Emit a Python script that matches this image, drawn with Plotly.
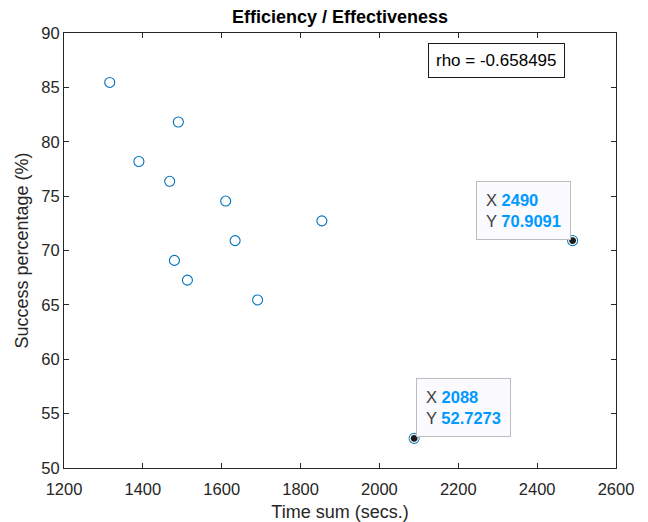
import plotly.graph_objects as go

time_sum = [1316, 1490, 1390, 1468, 1610, 1854, 1634, 1480, 1513, 1691, 2490, 2088]
success = [85.4545, 81.8182, 78.1818, 76.3636, 74.5455, 72.7273, 70.9091,
           69.0909, 67.2727, 65.4545, 70.9091, 52.7273]
tip_idx = [10, 11]
rho_text = "rho = -0.658495"
x_ticks = [1200, 1400, 1600, 1800, 2000, 2200, 2400, 2600]
y_ticks = [50, 55, 60, 65, 70, 75, 80, 85, 90]

FONT = "Liberation Sans, Arial, Helvetica, sans-serif"
AX = "#262626"
BLUE = "#0072BD"

# page has an 8px body margin; figure is sized/offset to compensate
W, H = 640, 514
L, R, T, B = 56, 32, 24.5, 54

fig = go.Figure()
fig.add_trace(go.Scatter(
    x=time_sum, y=success, mode="markers",
    marker=dict(symbol="circle-open", size=10, color=BLUE, line=dict(width=1.1, color=BLUE)),
    hoverinfo="skip", showlegend=False))
fig.add_trace(go.Scatter(
    x=[time_sum[i] for i in tip_idx], y=[success[i] for i in tip_idx], mode="markers",
    marker=dict(symbol="circle", size=8, color="#1a1a1a", line=dict(width=1.2, color="#e6f0ee")),
    hoverinfo="skip", showlegend=False))

axis_common = dict(showgrid=False, zeroline=False, showline=True, linecolor=AX, linewidth=1,
                   mirror="ticks", ticks="inside", ticklen=5, tickwidth=1, tickcolor=AX,
                   automargin=False,
                   tickfont=dict(family=FONT, size=16.5, color=AX))
fig.update_xaxes(range=[1200, 2600], tickvals=x_ticks, ticklabelstandoff=6, **axis_common,
                 title=dict(text="Time sum (secs.)", font=dict(family=FONT, size=18, color=AX), standoff=8))
fig.update_yaxes(range=[50, 90], tickvals=y_ticks, **axis_common,
                 title=dict(text="Success percentage (%)", font=dict(family=FONT, size=18, color=AX), standoff=8))

# data tips
anchors = {10: ("right", "bottom", -2, 1), 11: ("left", "bottom", 2, 1)}
for i in tip_idx:
    xa, ya, xs, ys = anchors[i]
    txt = (f"X <span style='color:#0099FF'><b>{time_sum[i]:g}</b></span><br>"
           f"Y <span style='color:#0099FF'><b>{success[i]:g}</b></span>")
    fig.add_annotation(x=time_sum[i], y=success[i], xref="x", yref="y", text=txt,
                       showarrow=False, xanchor=xa, yanchor=ya, xshift=xs, yshift=ys,
                       align="left", bgcolor="#fafaff", bordercolor="#bdbdbd", borderwidth=1,
                       borderpad=9, font=dict(family=FONT, size=16.5, color="#404040"))

pw, ph = W - L - R, H - T - B
fig.add_annotation(x=(428 - 64) / pw, y=1 - (43 - 32.5) / ph, xref="paper", yref="paper",
                   xanchor="left", yanchor="top", text=rho_text, showarrow=False,
                   bgcolor="white", bordercolor="#1a1a1a", borderwidth=1, borderpad=7,
                   font=dict(family=FONT, size=17, color="#000000"))

fig.update_layout(
    width=W, height=H,
    margin=dict(l=L, r=R, t=T, b=B),
    paper_bgcolor="white", plot_bgcolor="white",
    title=dict(text="<b>Efficiency / Effectiveness</b>", x=(L + pw / 2) / W, xanchor="center",
               y=1 - 9 / H, yanchor="middle", font=dict(family=FONT, size=18, color="#000000")),
)

fig.write_html("out.html")
